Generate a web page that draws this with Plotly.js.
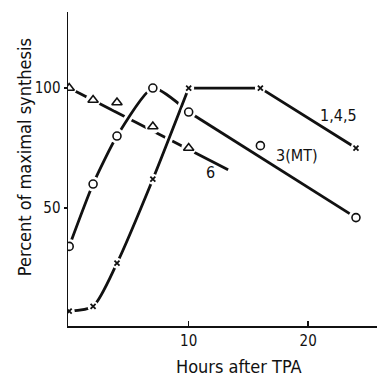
<!DOCTYPE html>
<html>
<head>
<meta charset="utf-8">
<script src="https://cdn.plot.ly/plotly-3.0.1.min.js"></script>
<style>html,body{margin:0;padding:0;background:#fff;}#chart{width:377px;height:379px;}
svg text { font-stretch: condensed !important; }</style>
</head>
<body>
<div id="chart"></div>
<script>
// Hours after TPA
var crossX = [0, 2, 4, 7, 10, 16, 24];      // series 1,4,5
var crossY = [7, 9, 27, 62, 100, 100, 75];
var circleX = [0, 2, 4, 7, 10, 16, 24];     // series 3(MT)
var circleY = [34, 60, 80, 100, 90, 76, 46];
var triX = [0, 2, 4, 7, 10];                // series 6
var triY = [100, 95, 94, 84, 75];
var triFitX = [0, 13.3];                    // fitted line for series 6
var triFitY = [100, 66];
var xTicks = [10, 20];
var yTicks = [50, 100];
var seriesLabels = ["1,4,5", "3(MT)", "6"];

var FONT = '"DejaVu Sans", sans-serif';
var BLACK = '#111';

function line(x, y, shape, w, color, sm) {
  return {x: x, y: y, mode: 'lines', type: 'scatter', hoverinfo: 'skip', showlegend: false,
    line: {color: color, width: w, shape: shape, smoothing: sm || 0.7}};
}
function markers(x, y, sym, size, fill, lc, lw) {
  return {x: x, y: y, mode: 'markers', type: 'scatter', hoverinfo: 'skip', showlegend: false,
    marker: {symbol: sym, size: size, color: fill, line: {color: lc, width: lw}}};
}

// segments built from data
var circCurveX = circleX.slice(0, 5), circCurveY = circleY.slice(0, 5);
var circLineX = [circleX[4], circleX[6]], circLineY = [circleY[4], circleY[6]];
var crossCurveX = crossX.slice(0, 5), crossCurveY = crossY.slice(0, 5);
var crossLineX = crossX.slice(4), crossLineY = crossY.slice(4);

var traces = [
  line(triFitX, triFitY, 'linear', 2.8, BLACK),
  line(circCurveX, circCurveY, 'spline', 8, '#fff', 0.6),
  line(circCurveX, circCurveY, 'spline', 2.8, BLACK, 0.6),
  line(circLineX, circLineY, 'linear', 2.8, BLACK),
  line(crossCurveX, crossCurveY, 'spline', 8, '#fff', 0.7),
  line(crossCurveX, crossCurveY, 'spline', 2.8, BLACK, 0.7),
  line(crossLineX, crossLineY, 'linear', 2.8, BLACK),
  // white halos that open gaps around markers
  markers(triX, triY, 'circle', 15, '#fff', '#fff', 0),
  markers(circleX, circleY, 'circle', 15, '#fff', '#fff', 0),
  markers(crossX, crossY, 'circle', 11, '#fff', '#fff', 0),
  // markers
  markers(triX, triY, 'triangle-up-open', 9, BLACK, BLACK, 1.6),
  markers(circleX, circleY, 'circle-open', 8, BLACK, BLACK, 1.6),
  markers(crossX, crossY, 'x-thin-open', 5, BLACK, BLACK, 1.8)
];

var layout = {
  width: 377, height: 379,
  margin: {l: 68, r: 0, t: 12, b: 53},
  paper_bgcolor: '#fff', plot_bgcolor: '#fff',
  showlegend: false,
  font: {family: FONT, color: BLACK, size: 15},
  xaxis: {
    range: [-0.1, 25.76], showgrid: false, zeroline: false,
    showline: true, linecolor: BLACK, linewidth: 1.5,
    tickmode: 'array', tickvals: xTicks, ticktext: xTicks.map(String),
    ticks: 'inside', ticklen: 5, tickwidth: 1.5, tickcolor: BLACK,
    tickfont: {family: FONT, size: 15, color: BLACK}
  },
  yaxis: {
    range: [0.83, 131.7], showgrid: false, zeroline: false,
    showline: true, linecolor: BLACK, linewidth: 1.5,
    tickmode: 'array', tickvals: yTicks, ticktext: yTicks.map(String),
    ticks: 'outside', ticklen: 3, tickwidth: 1.5, tickcolor: BLACK,
    tickfont: {family: FONT, size: 15, color: BLACK}
  },
  annotations: [
    {text: 'Hours after TPA', xref: 'paper', yref: 'paper', x: 0.553, y: -0.13,
      xanchor: 'center', yanchor: 'middle', showarrow: false,
      font: {family: FONT, size: 18, color: BLACK}},
    {text: 'Percent of maximal synthesis', xref: 'paper', yref: 'paper', x: -0.142, y: 0.538,
      xanchor: 'center', yanchor: 'middle', showarrow: false, textangle: -90,
      font: {family: FONT, size: 18, color: BLACK}},
    {text: seriesLabels[0], x: 22.5, y: 88.7, showarrow: false,
      font: {family: FONT, size: 16, color: BLACK}},
    {text: seriesLabels[1], x: 19.1, y: 72, showarrow: false,
      font: {family: FONT, size: 16, color: BLACK}},
    {text: seriesLabels[2], x: 11.8, y: 65, showarrow: false,
      font: {family: FONT, size: 16, color: BLACK}}
  ]
};

Plotly.newPlot('chart', traces, layout, {staticPlot: true, displayModeBar: false});
</script>
</body>
</html>
